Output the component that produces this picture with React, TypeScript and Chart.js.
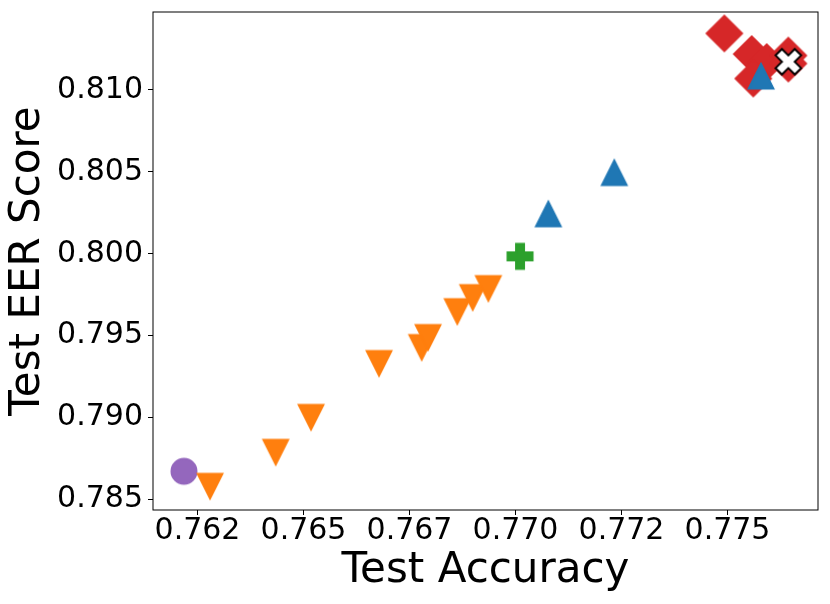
import React, { useEffect, useRef } from "react";
import { Chart, registerables } from "chart.js";

Chart.register(...registerables);

// Axis ticks
const xTickValues = [0.7625, 0.765, 0.7675, 0.77, 0.7725, 0.775];
const xTickLabels = ["0.762", "0.765", "0.767", "0.770", "0.772", "0.775"];
const yTickValues = [0.785, 0.79, 0.795, 0.8, 0.805, 0.81];
const yTickLabels = ["0.785", "0.790", "0.795", "0.800", "0.805", "0.810"];
const xMin = 0.76145;
const xMax = 0.777134;
const yMin = 0.784346;
const yMax = 0.814764;

// Series
const purpleX = [0.76218];
const purpleY = [0.78671];

const orangeX = [0.762795, 0.764344, 0.765177, 0.766781, 0.767788, 0.767936, 0.768627, 0.76899, 0.769359];
const orangeY = [0.78579, 0.787866, 0.79, 0.793293, 0.79427, 0.79488, 0.79646, 0.79732, 0.79787];

const greenX = [0.770106];
const greenY = [0.79984];

const redX = [0.774925, 0.775571, 0.775925, 0.775608, 0.776434, 0.776434];
const redY = [0.813457, 0.812195, 0.811707, 0.810701, 0.812104, 0.811616];

const blueX = [0.770774, 0.77233, 0.77579];
const blueY = [0.802439, 0.804957, 0.810854];

const bestX = [0.776434];
const bestY = [0.811726];

const toPoints = (xs: number[], ys: number[]) => xs.map((x, i) => ({ x, y: ys[i] }));

function makeMarker(shape: string, fill: string, stroke: string, lw: number): HTMLCanvasElement {
  const W = 46;
  const c = W / 2;
  const h = 12.8;
  const cv = document.createElement("canvas");
  cv.width = W;
  cv.height = W;
  const ctx = cv.getContext("2d")!;
  ctx.beginPath();
  if (shape === "circle") {
    ctx.arc(c, c, h, 0, Math.PI * 2);
  } else if (shape === "down") {
    ctx.moveTo(c, c + h);
    ctx.lineTo(c - h, c - h);
    ctx.lineTo(c + h, c - h);
  } else if (shape === "up") {
    ctx.moveTo(c, c - h);
    ctx.lineTo(c - h, c + h);
    ctx.lineTo(c + h, c + h);
  } else if (shape === "diamond") {
    const d = h * Math.SQRT2;
    ctx.moveTo(c, c - d);
    ctx.lineTo(c + d, c);
    ctx.lineTo(c, c + d);
    ctx.lineTo(c - d, c);
  } else if (shape === "plus") {
    const pts = [[-1, -3], [1, -3], [1, -1], [3, -1], [3, 1], [1, 1], [1, 3], [-1, 3], [-1, 1], [-3, 1], [-3, -1], [-1, -1]];
    const u = h / 3;
    pts.forEach((p, i) => (i === 0 ? ctx.moveTo(c + p[0] * u, c + p[1] * u) : ctx.lineTo(c + p[0] * u, c + p[1] * u)));
  } else if (shape === "x") {
    const pts = [[-1, -2], [0, -1], [1, -2], [2, -1], [1, 0], [2, 1], [1, 2], [0, 1], [-1, 2], [-2, 1], [-1, 0], [-2, -1]];
    const u = h / 2;
    pts.forEach((p, i) => (i === 0 ? ctx.moveTo(c + p[0] * u, c + p[1] * u) : ctx.lineTo(c + p[0] * u, c + p[1] * u)));
  }
  ctx.closePath();
  ctx.fillStyle = fill;
  ctx.fill();
  ctx.lineJoin = "miter";
  ctx.strokeStyle = stroke;
  ctx.lineWidth = lw;
  ctx.stroke();
  return cv;
}

const framePlugin = {
  id: "frame",
  afterDraw(chart: any) {
    const { ctx, chartArea } = chart;
    const { left, top, right, bottom } = chartArea;
    ctx.save();
    ctx.strokeStyle = "#000";
    ctx.lineWidth = 1;
    ctx.strokeRect(left, top, right - left, bottom - top);
    ctx.restore();
  },
};

export default function App() {
  const ref = useRef<HTMLCanvasElement | null>(null);

  useEffect(() => {
    if (!ref.current) return;
    const purple = "#9467bd";
    const orange = "#ff7f0e";
    const green = "#2ca02c";
    const red = "#d62728";
    const blue = "#1f77b4";

    const mk = (data: any[], style: HTMLCanvasElement, order: number) => ({
      data,
      pointStyle: style,
      pointRadius: 1,
      pointHoverRadius: 1,
      pointBorderWidth: 0,
      order,
      clip: false as any,
    });

    const tickFont = { family: "'DejaVu Sans', sans-serif", size: 30, lineHeight: 1 };
    const titleFont = { family: "'DejaVu Sans', sans-serif", size: 42, lineHeight: 1 };

    const zeroPad = (s: any) => {
      s.paddingTop = 0;
      s.paddingBottom = 0;
      s.paddingLeft = 0;
      s.paddingRight = 0;
    };

    const chart = new Chart(ref.current, {
      type: "scatter",
      data: {
        datasets: [
          mk(toPoints(purpleX, purpleY), makeMarker("circle", purple, purple, 1.4), 5),
          mk(toPoints(orangeX, orangeY), makeMarker("down", orange, orange, 1.4), 4),
          mk(toPoints(greenX, greenY), makeMarker("plus", green, green, 1.4), 3),
          mk(toPoints(redX, redY), makeMarker("diamond", red, red, 1.4), 2),
          mk(toPoints(blueX, blueY), makeMarker("up", blue, blue, 1.4), 1),
          mk(toPoints(bestX, bestY), makeMarker("x", "#ffffff", "#000000", 2), 0),
        ] as any,
      },
      options: {
        animation: false,
        responsive: false,
        events: [],
        layout: { padding: { top: 12, right: 12, left: 0, bottom: 0 } },
        plugins: { legend: { display: false }, tooltip: { enabled: false } },
        scales: {
          x: {
            type: "linear",
            min: xMin,
            max: xMax,
            afterFit: (s: any) => {
              s.height = 94;
              zeroPad(s);
            },
            afterBuildTicks: (s: any) => {
              s.ticks = xTickValues.map((v) => ({ value: v }));
            },
            ticks: {
              autoSkip: false,
              maxRotation: 0,
              color: "#000",
              font: tickFont,
              padding: 1,
              callback: (_v: any, i: number) => xTickLabels[i],
            },
            grid: { drawOnChartArea: false, drawTicks: true, tickLength: 5, tickColor: "#000", tickWidth: 1 },
            border: { display: false },
            title: { display: true, text: "Test Accuracy", color: "#000", font: titleFont, padding: { top: 0, bottom: 12 } },
          },
          y: {
            type: "linear",
            min: yMin,
            max: yMax,
            afterFit: (s: any) => {
              s.width = 153;
              zeroPad(s);
            },
            afterBuildTicks: (s: any) => {
              s.ticks = yTickValues.map((v) => ({ value: v }));
            },
            ticks: {
              autoSkip: false,
              color: "#000",
              font: tickFont,
              padding: 5,
              callback: (_v: any, i: number) => yTickLabels[i],
            },
            grid: { drawOnChartArea: false, drawTicks: true, tickLength: 5, tickColor: "#000", tickWidth: 1 },
            border: { display: false },
            title: { display: true, text: "Test EER Score", color: "#000", font: titleFont, padding: { top: 7, bottom: 0 } },
          },
        },
      },
      plugins: [framePlugin],
    });
    return () => chart.destroy();
  }, []);

  return (
    <div style={{ position: "absolute", left: 0, top: 0, width: 830, height: 604, background: "#fff" }}>
      <canvas ref={ref} width={830} height={604} style={{ display: "block" }} />
    </div>
  );
}
